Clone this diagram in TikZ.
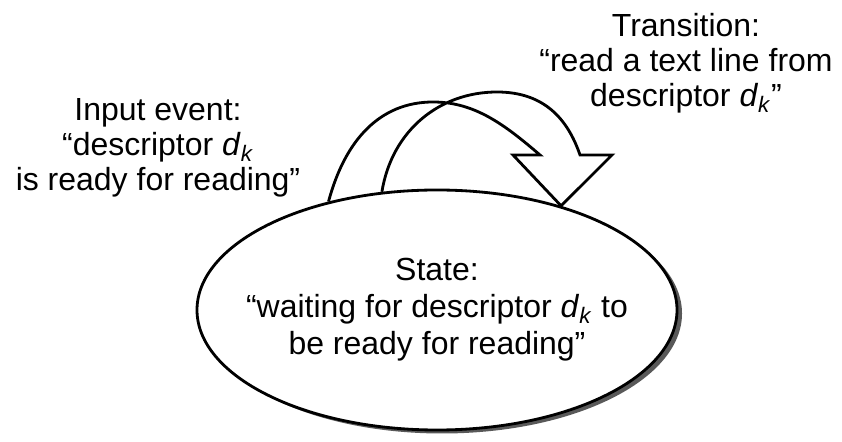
\documentclass[tikz,border=0pt]{standalone}
\usepackage{fontspec}
\setmainfont{Liberation Sans}
\usetikzlibrary{shapes.geometric,shadows}
\newcommand{\dk}{\textit{d}\textsubscript{\textit{k}}}
\begin{document}
\begin{tikzpicture}[line width=1.6pt,
    lbl/.style={align=center,inner sep=0pt,font=\fontsize{18.2}{20}\selectfont},
    stav/.style={ellipse,draw,fill=white,minimum width=9.6cm,minimum height=4.8cm,inner sep=0pt,
      drop shadow={shadow xshift=0.1cm,shadow yshift=-0.07cm,fill=black!65,opacity=1}}]
  \useasboundingbox (0,0) rectangle (16.84,8.84);
  % stav jako elipsa se stinem, text zvlast (je sirsi nez elipsa)
  \node[stav] (state) at (8.74,2.64) {};
  \node[lbl,font=\fontsize{18.2}{21}\selectfont] (statetxt) at (8.74,2.64)
    {State:\\“waiting for descriptor \dk{} to\\be ready for reading”};
  \node[lbl] (input) at (3.16,5.88) {Input event:\\“descriptor \dk\\is ready for reading”};
  \node[lbl] (trans) at (13.72,7.58) {Transition:\\“read a text line from\\descriptor \dk”};
  % sipka prechodu: dva oblouky a hrot na hrane elipsy
  \coordinate (footA) at (state.135);
  \coordinate (footB) at (state.115);
  \coordinate (tip) at (state.40);
  \draw[line join=miter] (footA) .. controls (6.9,6.04) and (7.6,6.8) .. (8.66,6.8)
      .. controls (9.5,6.8) and (10.1,6.34) .. (10.8,5.74)
      -- (10.26,5.74) -- (tip) -- (12.24,5.74) -- (11.6,5.74)
      .. controls (11.36,6.44) and (10.9,7.0) .. (9.94,7.0)
      .. controls (8.8,7.0) and (7.84,6.24) .. (footB);
\end{tikzpicture}
\end{document}
